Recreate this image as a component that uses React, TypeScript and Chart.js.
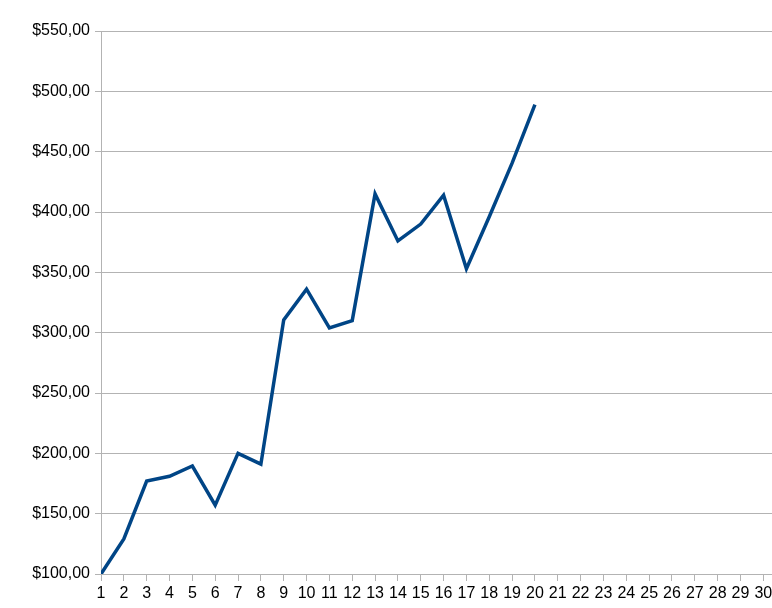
import React, { useEffect, useRef } from "react";
import { Chart, registerables } from "chart.js";

Chart.register(...registerables);

const categories: number[] = Array.from({ length: 30 }, (_, i) => i + 1);
const values: number[] = [
  100, 129, 177, 181, 189.5, 157, 200, 191, 310.5, 336,
  304, 310, 415, 376, 390, 414, 353, 396, 440.5, 489,
];
const yTicks: number[] = [100, 150, 200, 250, 300, 350, 400, 450, 500, 550];

export default function App() {
  const ref = useRef<HTMLCanvasElement>(null);
  useEffect(() => {
    document.body.style.margin = "0";
    const ctx = ref.current!;
    const font = { family: "'Liberation Sans', Arial, sans-serif", size: 16 };
    const chart = new Chart(ctx, {
      type: "line",
      data: {
        datasets: [
          {
            data: values.map((v, i) => ({ x: categories[i], y: v })),
            borderColor: "#004586",
            borderWidth: 3.5,
            pointRadius: 0,
            tension: 0,
            fill: false,
          },
        ],
      },
      options: {
        animation: false,
        responsive: false,
        maintainAspectRatio: false,
        layout: { padding: { top: 31, right: 0, left: 0, bottom: 0 } },
        plugins: { legend: { display: false }, tooltip: { enabled: false } },
        scales: {
          x: {
            type: "linear",
            min: 1,
            max: 30.38,
            afterBuildTicks: (axis: any) => {
              axis.ticks = categories.map((c) => ({ value: c }));
            },
            afterFit: (axis: any) => {
              axis.height = 34;
              axis.paddingRight = 0;
            },
            ticks: {
              color: "#000",
              font,
              padding: 3,
              maxRotation: 0,
              autoSkip: false,
              callback: (v: any) => String(v),
            },
            grid: {
              drawOnChartArea: false,
              drawTicks: true,
              tickLength: 7,
              color: "#b3b3b3",
            },
            border: { display: true, color: "#b3b3b3", width: 1 },
          },
          y: {
            min: 100,
            max: 550,
            afterBuildTicks: (axis: any) => {
              axis.ticks = yTicks.map((t) => ({ value: t }));
            },
            afterFit: (axis: any) => {
              axis.width = 101;
            },
            ticks: {
              color: "#000",
              font,
              padding: 5,
              callback: (v: any) => "$" + Number(v).toFixed(2).replace(".", ","),
            },
            grid: {
              color: "#b3b3b3",
              drawTicks: true,
              tickLength: 6,
            },
            border: { display: true, color: "#b3b3b3", width: 1 },
          },
        },
      },
    } as any);
    return () => chart.destroy();
  }, []);
  return (
    <div style={{ position: "absolute", left: 0, top: 0, width: 772, height: 608 }}>
      <canvas ref={ref} width={772} height={608} style={{ width: 772, height: 608 }} />
    </div>
  );
}
